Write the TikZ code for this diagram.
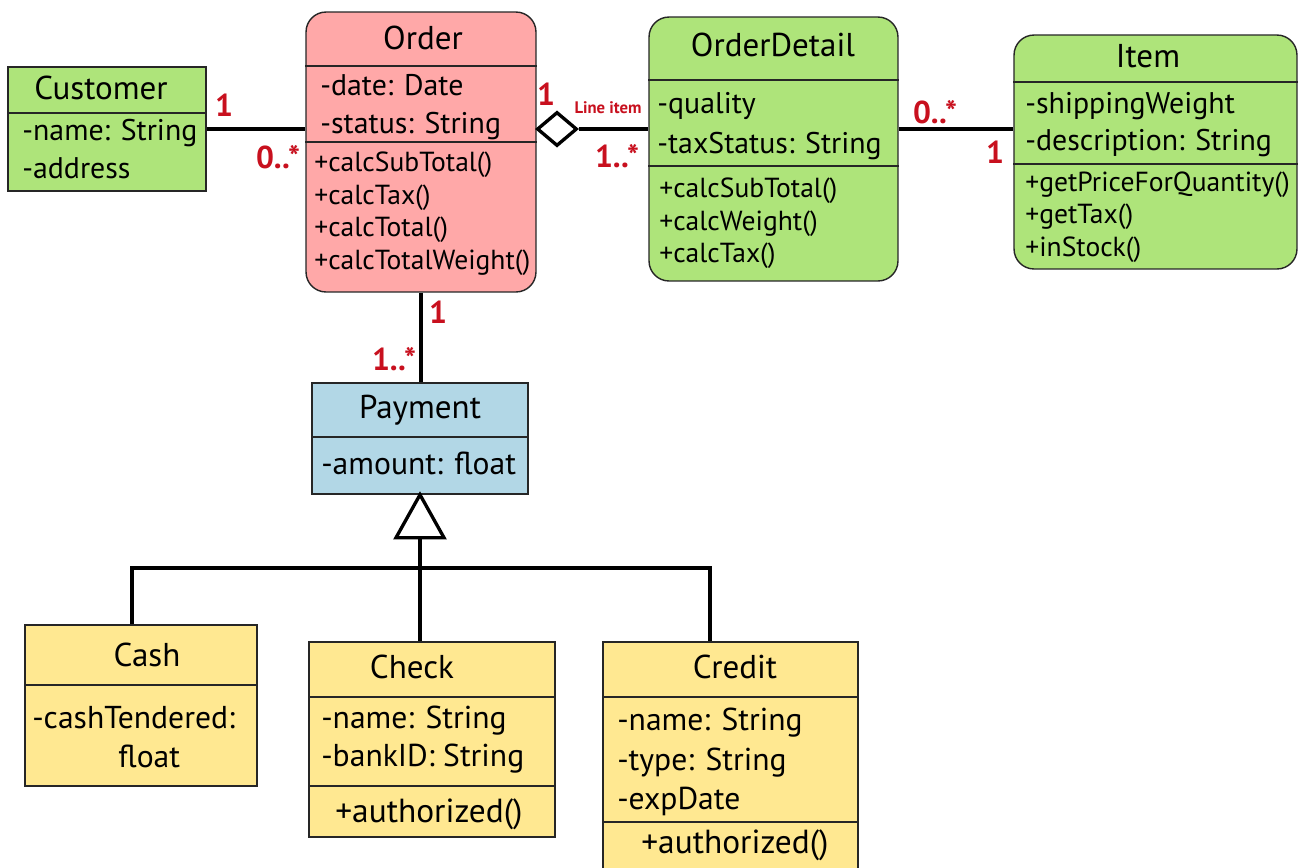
\documentclass[tikz,border=0pt]{standalone}
\usepackage{fontspec}
\setmainfont{PT Sans}
\usetikzlibrary{shapes.geometric}
\definecolor{ordercol}{RGB}{255,168,168}
\definecolor{greencol}{RGB}{174,228,122}
\definecolor{paycol}{RGB}{178,215,230}
\definecolor{yellowcol}{RGB}{255,232,145}
\definecolor{multcol}{RGB}{200,16,30}
\tikzset{
  classbox/.style={draw=black!85, line width=0.8pt},
  roundbox/.style={classbox, rounded corners=0.4cm},
  divider/.style={black!85, line width=0.8pt},
  link/.style={black, line width=1.9pt},
  title/.style={anchor=base, font=\fontsize{18.8}{20}\selectfont},
  attr/.style={anchor=base west, font=\fontsize{17}{19}\selectfont},
  op/.style={anchor=base west, font=\fontsize{15.7}{18}\selectfont},
  bigattr/.style={anchor=base west, font=\fontsize{18}{20}\selectfont},
  bigop/.style={anchor=base west, font=\fontsize{19}{21}\selectfont},
  mult/.style={text=multcol, font=\bfseries\fontsize{18}{20}\selectfont},
}
\begin{document}
\begin{tikzpicture}[x=0.02cm, y=0.02cm]
\tikzstyle{every node}+=[inner sep=0pt]
\clip (0,0) rectangle (1300,-867);
\fill [white] (0,0) rectangle (1300,-867);
\coordinate (assocy) at (0,-129);
% Customer
\node [classbox, fill=greencol, minimum width=3.96cm, minimum height=2.48cm] (customer) at (107,-129) {};
\draw [divider] (customer.west |- 0,-113) -- (customer.east |- 0,-113);
\draw (101,-99) node [title] (custtitle) {Customer};
\draw (22,-140) node [attr] (custname) {-name: String};
\draw (22,-178) node [attr] (custaddr) {-address};
% Order
\node [roundbox, fill=ordercol, minimum width=4.6cm, minimum height=5.6cm] (order) at (421,-152) {};
\draw [divider] (order.west |- 0,-66) -- (order.east |- 0,-66);
\draw [divider] (order.west |- 0,-142) -- (order.east |- 0,-142);
\draw (423,-49) node [title] (ordtitle) {Order};
\draw (320,-95) node [attr] (orddate) {-date: Date};
\draw (320,-133) node [attr] (ordstatus) {-status: String};
\draw (314,-171) node [op] (ordsub) {+calcSubTotal()};
\draw (314,-204) node [op] (ordtax) {+calcTax()};
\draw (314,-236) node [op] (ordtotal) {+calcTotal()};
\draw (314,-269) node [op] (ordweight) {+calcTotalWeight()};
% OrderDetail
\node [roundbox, fill=greencol, minimum width=4.98cm, minimum height=5.28cm] (detail) at (773.5,-149) {};
\draw [divider] (detail.west |- 0,-80) -- (detail.east |- 0,-80);
\draw [divider] (detail.west |- 0,-166) -- (detail.east |- 0,-166);
\draw (773,-56) node [title] (dettitle) {OrderDetail};
\draw (657,-113) node [attr] (detqual) {-quality};
\draw (657,-153) node [attr] (dettaxst) {-taxStatus: String};
\draw (659,-197) node [op] (detsub) {+calcSubTotal()};
\draw (659,-230) node [op] (detweight) {+calcWeight()};
\draw (659,-262) node [op] (dettax) {+calcTax()};
% Item
\node [roundbox, fill=greencol, minimum width=5.66cm, minimum height=4.68cm] (item) at (1155.5,-152) {};
\draw [divider] (item.west |- 0,-82) -- (item.east |- 0,-82);
\draw [divider] (item.west |- 0,-164) -- (item.east |- 0,-164);
\draw (1148,-67) node [title] (itemtitle) {Item};
\draw (1025,-113) node [attr] (itemship) {-shippingWeight};
\draw (1025,-150) node [attr] (itemdesc) {-description: String};
\draw (1025,-191) node [op] (itemprice) {+getPriceForQuantity()};
\draw (1025,-223) node [op] (itemtax) {+getTax()};
\draw (1025,-256) node [op] (itemstock) {+inStock()};
% Payment
\node [classbox, fill=paycol, minimum width=4.32cm, minimum height=2.22cm] (payment) at (420,-438.5) {};
\draw [divider] (payment.west |- 0,-437) -- (payment.east |- 0,-437);
\draw (420,-418) node [title] (paytitle) {Payment};
\draw (321,-474) node [bigattr] (payamount) {-amount: float};
% Cash
\node [classbox, fill=yellowcol, minimum width=4.64cm, minimum height=3.22cm] (cash) at (141,-705.5) {};
\draw [divider] (cash.west |- 0,-685) -- (cash.east |- 0,-685);
\draw (147,-666) node [title] (cashtitle) {Cash};
\draw (32,-728) node [bigattr] (cashtend) {-cashTendered:};
\draw (118,-767) node [bigattr] (cashfloat) {float};
% Check
\node [classbox, fill=yellowcol, minimum width=4.92cm, minimum height=3.9cm] (check) at (432,-739.5) {};
\draw [divider] (check.west |- 0,-697) -- (check.east |- 0,-697);
\draw [divider] (check.west |- 0,-786) -- (check.east |- 0,-786);
\draw (412,-678) node [title] (checktitle) {Check};
\draw (321,-728) node [bigattr] (checkname) {-name: String};
\draw (321,-766) node [bigattr] (checkbank) {-bankID: String};
\draw (335,-822) node [bigop] (checkauth) {+authorized()};
% Credit
\node [classbox, fill=yellowcol, minimum width=5.1cm, minimum height=4.96cm] (credit) at (730.5,-766) {};
\draw [divider] (credit.west |- 0,-697) -- (credit.east |- 0,-697);
\draw [divider] (credit.west |- 0,-822) -- (credit.east |- 0,-822);
\draw (735,-678) node [title] (credtitle) {Credit};
\draw (617,-730) node [bigattr] (credname) {-name: String};
\draw (617,-770) node [bigattr] (credtype) {-type: String};
\draw (617,-809) node [bigattr] (credexp) {-expDate};
\draw (641,-853) node [bigop] (credauth) {+authorized()};
% associations
\draw [link] (customer.east) -- (customer.east -| order.west);
\node [diamond, draw=black, fill=white, line width=1.9pt, minimum width=0.8cm, minimum height=0.68cm] (agg) at (557,-129) {};
\draw [link] (agg.east) -- (agg.east -| detail.west);
\draw [link] (detail.east |- assocy) -- (item.west |- assocy);
\draw [link] (order.south) -- (order.south |- payment.north);
% generalization
\draw [link, fill=white] (payment.south) -- ++(24,-43) -- ++(-48,0) -- cycle;
\path (payment.south) ++(0,-43) coordinate (genbase);
\coordinate (barl) at (132,-568);
\coordinate (barr) at (710,-568);
\draw [link] (genbase) -- (genbase |- check.north);
\draw [link] (cash.north -| barl) -- (barl) -- (barr) -- (credit.north -| barr);
% multiplicities
\draw (224,-105) node [mult] (m1) {1};
\draw (278,-157) node [mult] (m2) {0..*};
\draw (546,-94) node [mult] (m3) {1};
\draw (608,-108) node [text=multcol, font=\bfseries\fontsize{9.5}{11}\selectfont] (lineitem) {Line item};
\draw (617,-156) node [mult] (m4) {1..*};
\draw (935,-112) node [mult] (m5) {0..*};
\draw (995,-152) node [mult] (m6) {1};
\draw (438,-312) node [mult] (m7) {1};
\draw (394,-359) node [mult] (m8) {1..*};
\end{tikzpicture}
\end{document}
